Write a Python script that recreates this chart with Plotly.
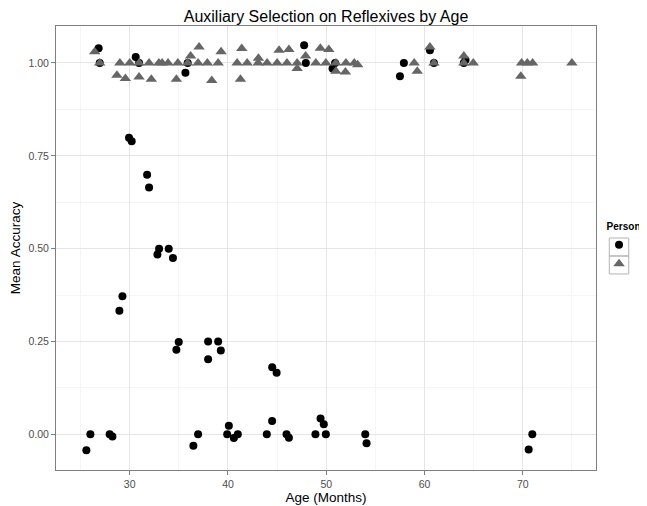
import plotly.graph_objects as go

# Person 1 (circles)
p1_age = [26.84, 26.95, 30.61, 30.95, 35.67, 35.9, 47.75, 47.92, 50.64, 50.9,
          57.9, 57.5, 60.55, 60.96, 64.17, 64.0,
          29.93, 30.2, 31.77, 31.97, 32.99, 32.82, 33.97, 34.4, 29.26, 28.95,
          25.59, 26.0, 27.96, 28.24, 34.75, 34.99, 37.98, 37.98, 39.0, 39.27,
          36.48, 36.96, 39.92, 40.09, 40.6, 41.0, 44.5, 44.95, 43.95, 44.49,
          45.96, 46.2, 48.9, 49.42, 49.75, 49.96, 53.97, 54.1, 70.6, 70.97]
p1_acc = [1.040, 1.0, 1.016, 1.0, 0.974, 1.0, 1.048, 1.0, 0.985, 1.0,
          1.0, 0.964, 1.034, 1.0, 1.008, 1.0,
          0.799, 0.789, 0.699, 0.665, 0.5, 0.484, 0.5, 0.475, 0.372, 0.333,
          -0.043, 0.0, 0.0, -0.006, 0.228, 0.249, 0.25, 0.202, 0.25, 0.226,
          -0.031, 0.0, 0.0, 0.023, -0.01, 0.0, 0.181, 0.166, 0.0, 0.036,
          0.0, -0.009, 0.0, 0.043, 0.027, 0.0, 0.0, -0.024, -0.041, 0.0]

# Person 3 (triangles)
p3_age = [26.44, 26.95, 28.7, 29.0, 29.56, 30.0, 30.95, 30.95, 31.97, 32.2,
          32.97, 33.3, 33.9, 34.75, 34.9, 35.9, 36.2, 37.06, 36.96, 37.9,
          38.35, 39.0, 39.3, 40.93, 41.4, 41.27, 41.95, 43.07, 43.1, 43.98,
          45.0, 45.2, 46.0, 46.2, 47.04, 47.04, 47.9, 48.94, 49.4, 49.96,
          50.26, 50.98, 50.98, 52.0, 51.95, 52.85, 53.2, 58.95, 59.26, 60.55,
          60.96, 64.0, 64.0, 64.96, 69.88, 69.8, 70.46, 71.0, 75.0]
p3_acc = [1.03, 1.0, 0.967, 1.0, 0.958, 1.0, 0.962, 1.0, 1.0, 0.956,
          1.0, 1.0, 1.0, 0.956, 1.0, 1.0, 1.019, 1.043, 1.0, 1.0,
          0.953, 1.0, 1.03, 1.0, 1.039, 0.956, 1.0, 1.0, 1.013, 1.0,
          1.0, 1.034, 1.0, 1.036, 1.0, 0.985, 1.019, 1.0, 1.04, 1.0,
          1.036, 1.0, 0.978, 1.0, 0.976, 1.0, 0.995, 1.0, 0.978, 1.043,
          1.0, 1.019, 1.0, 1.0, 1.0, 0.964, 1.0, 1.0, 1.0]

x_ticks = [30, 40, 50, 60, 70]
y_ticks = [0.0, 0.25, 0.5, 0.75, 1.0]
y_labels = ["0.00", "0.25", "0.50", "0.75", "1.00"]
person_names = ["1", "3"]

FONT = "Liberation Sans, Arial"

fig = go.Figure()
fig.add_trace(go.Scatter(x=p1_age, y=p1_acc, mode="markers", name=person_names[0],
                         marker=dict(symbol="circle", size=8, color="black")))
fig.add_trace(go.Scatter(x=p3_age, y=p3_acc, mode="markers", name=person_names[1],
                         marker=dict(symbol="triangle-up", size=10, color="#666666")))

axis_common = dict(showline=True, linecolor="#7f7f7f", linewidth=1, mirror=True,
                   ticks="outside", tickcolor="#7f7f7f", ticklen=4,
                   showgrid=True, gridcolor="#e5e5e5", gridwidth=1,
                   zeroline=False, automargin=False,
                   tickfont=dict(family=FONT, size=10.5, color="#4d4d4d"))

fig.update_xaxes(range=[22.5, 77.45], tickvals=x_ticks,
                 title=dict(text="Age (Months)", font=dict(family=FONT, size=13.5, color="black"), standoff=1),
                 minor=dict(tickvals=[25, 35, 45, 55, 65, 75], ticks="", showgrid=True,
                            gridcolor="#f5f5f5", gridwidth=1),
                 **axis_common)
fig.update_yaxes(range=[-0.096, 1.0996], tickvals=y_ticks, ticktext=y_labels,
                 title=dict(text="Mean Accuracy", font=dict(family=FONT, size=13.5, color="black"), standoff=4),
                 minor=dict(tickvals=[0.125, 0.375, 0.625, 0.875], ticks="", showgrid=True,
                            gridcolor="#f5f5f5", gridwidth=1),
                 **axis_common)

# legend key boxes (ggplot-style key borders), paper coordinates
for y0, y1 in [(0.482, 0.5225), (0.4415, 0.482)]:
    fig.add_shape(type="rect", xref="paper", yref="paper", x0=1.0246, x1=1.0606,
                  y0=y0, y1=y1, line=dict(color="#b3b3b3", width=1), layer="below")

fig.update_layout(
    width=639, height=498,
    margin=dict(l=48, r=51, t=18, b=36, autoexpand=False),
    paper_bgcolor="white", plot_bgcolor="white",
    title=dict(text="Auxiliary Selection on Reflexives by Age", x=0.5, xanchor="center",
               xref="paper", y=0.984, yanchor="middle",
               font=dict(family=FONT, size=16, color="black")),
    legend=dict(title=dict(text="&nbsp;&nbsp;<b>Person</b>",
                           font=dict(family=FONT, size=10, color="black")),
                font=dict(family=FONT, size=11, color="black"),
                x=1.0056, xanchor="left", y=0.569, yanchor="top",
                itemwidth=30, tracegroupgap=0, bgcolor="rgba(0,0,0,0)"),
)

fig.write_html("out.html")
